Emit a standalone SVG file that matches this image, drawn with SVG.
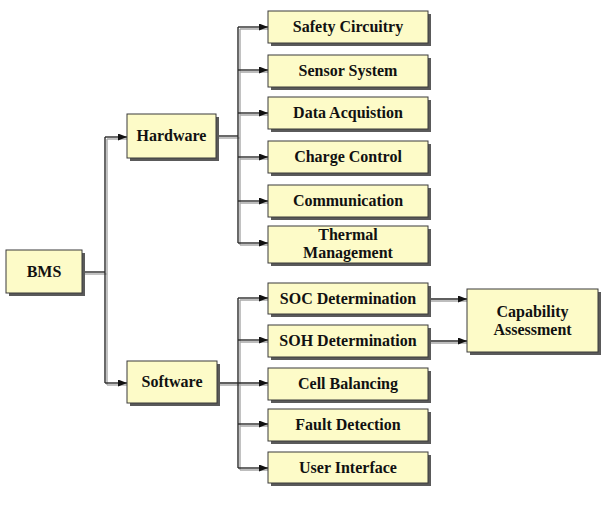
<svg xmlns="http://www.w3.org/2000/svg" width="612" height="508" viewBox="0 0 612 508">
<style>
.box{fill:#fdfbc8;stroke:#3a3a3a;stroke-width:1}
.sh{fill:#5a5a5a}
.t{font-family:"Liberation Serif","Times New Roman",serif;font-weight:bold;font-size:16px;fill:#111;text-anchor:middle}
.ln{fill:none;stroke:#2a2a2a;stroke-width:1.4}
.lns{fill:none;stroke:#a8a8a8;stroke-width:1.4}
</style>
<defs>
<marker id="ah" markerUnits="userSpaceOnUse" markerWidth="9" markerHeight="7" refX="9" refY="3.5" orient="auto">
<path d="M0,0 L9,3.5 L0,7 z" fill="#111"/>
</marker>
</defs>
<rect width="612" height="508" fill="#fff"/>
<g id="connectors">
<g class="lns" transform="translate(2,2)">
<path d="M82,272 H105"/>
<path d="M105,137 V383"/>
<path d="M105,137 H125"/>
<path d="M105,383 H125"/>
<path d="M216,136 H238"/>
<path d="M238,27 V243"/>
<path d="M238,27 H266 M238,70 H266 M238,113 H266 M238,157 H266 M238,201 H266 M238,243 H266"/>
<path d="M217,383 H266"/>
<path d="M238,298 V468"/>
<path d="M238,298 H266 M238,340 H266 M238,424 H266 M238,468 H266"/>
<path d="M428,299 H465 M428,341 H465"/>
</g>
<path class="ln" d="M82,272 H105"/>
<path class="ln" d="M105,137 V383"/>
<path class="ln" d="M105,137 H127" marker-end="url(#ah)"/>
<path class="ln" d="M105,383 H127" marker-end="url(#ah)"/>
<path class="ln" d="M216,136 H238"/>
<path class="ln" d="M238,27 V243"/>
<path class="ln" d="M238,27 H268" marker-end="url(#ah)"/>
<path class="ln" d="M238,70 H268" marker-end="url(#ah)"/>
<path class="ln" d="M238,113 H268" marker-end="url(#ah)"/>
<path class="ln" d="M238,157 H268" marker-end="url(#ah)"/>
<path class="ln" d="M238,201 H268" marker-end="url(#ah)"/>
<path class="ln" d="M238,243 H268" marker-end="url(#ah)"/>
<path class="ln" d="M217,383 H268" marker-end="url(#ah)"/>
<path class="ln" d="M238,298 V468"/>
<path class="ln" d="M238,298 H268" marker-end="url(#ah)"/>
<path class="ln" d="M238,340 H268" marker-end="url(#ah)"/>
<path class="ln" d="M238,424 H268" marker-end="url(#ah)"/>
<path class="ln" d="M238,468 H268" marker-end="url(#ah)"/>
<path class="ln" d="M428,299 H467" marker-end="url(#ah)"/>
<path class="ln" d="M428,341 H467" marker-end="url(#ah)"/>
</g>
<g id="bms"><rect class="sh" x="9" y="253" width="76" height="43"/><rect class="box" x="6" y="250" width="76" height="43"/><text class="t" x="44" y="277">BMS</text></g>
<g id="hardware"><rect class="sh" x="130" y="117" width="89" height="44"/><rect class="box" x="127" y="114" width="89" height="44"/><text class="t" x="171.5" y="141">Hardware</text></g>
<g id="software"><rect class="sh" x="130" y="364" width="90" height="42"/><rect class="box" x="127" y="361" width="90" height="42"/><text class="t" x="172" y="387">Software</text></g>
<g id="safety"><rect class="sh" x="271" y="14" width="160" height="32"/><rect class="box" x="268" y="11" width="160" height="32"/><text class="t" x="348" y="32">Safety Circuitry</text></g>
<g id="sensor"><rect class="sh" x="271" y="58" width="160" height="32"/><rect class="box" x="268" y="55" width="160" height="32"/><text class="t" x="348" y="76">Sensor System</text></g>
<g id="data"><rect class="sh" x="271" y="100" width="160" height="32"/><rect class="box" x="268" y="97" width="160" height="32"/><text class="t" x="348" y="118">Data Acquistion</text></g>
<g id="charge"><rect class="sh" x="271" y="144" width="160" height="32"/><rect class="box" x="268" y="141" width="160" height="32"/><text class="t" x="348" y="162">Charge Control</text></g>
<g id="comm"><rect class="sh" x="271" y="188" width="160" height="32"/><rect class="box" x="268" y="185" width="160" height="32"/><text class="t" x="348" y="206">Communication</text></g>
<g id="thermal"><rect class="sh" x="271" y="229" width="160" height="37"/><rect class="box" x="268" y="226" width="160" height="37"/><text class="t" x="348" y="240">Thermal</text><text class="t" x="348" y="258">Management</text></g>
<g id="soc"><rect class="sh" x="271" y="286" width="160" height="31"/><rect class="box" x="268" y="283" width="160" height="31"/><text class="t" x="348" y="304">SOC Determination</text></g>
<g id="soh"><rect class="sh" x="271" y="328" width="160" height="32"/><rect class="box" x="268" y="325" width="160" height="32"/><text class="t" x="348" y="346">SOH Determination</text></g>
<g id="cell"><rect class="sh" x="271" y="371" width="160" height="32"/><rect class="box" x="268" y="368" width="160" height="32"/><text class="t" x="348" y="389">Cell Balancing</text></g>
<g id="fault"><rect class="sh" x="271" y="412" width="160" height="32"/><rect class="box" x="268" y="409" width="160" height="32"/><text class="t" x="348" y="430">Fault Detection</text></g>
<g id="ui"><rect class="sh" x="271" y="455" width="160" height="31"/><rect class="box" x="268" y="452" width="160" height="31"/><text class="t" x="348" y="473">User Interface</text></g>
<g id="capability"><rect class="sh" x="470" y="292" width="131" height="63"/><rect class="box" x="467" y="289" width="131" height="63"/><text class="t" x="532.5" y="317">Capability</text><text class="t" x="532.5" y="335">Assessment</text></g>
</svg>
